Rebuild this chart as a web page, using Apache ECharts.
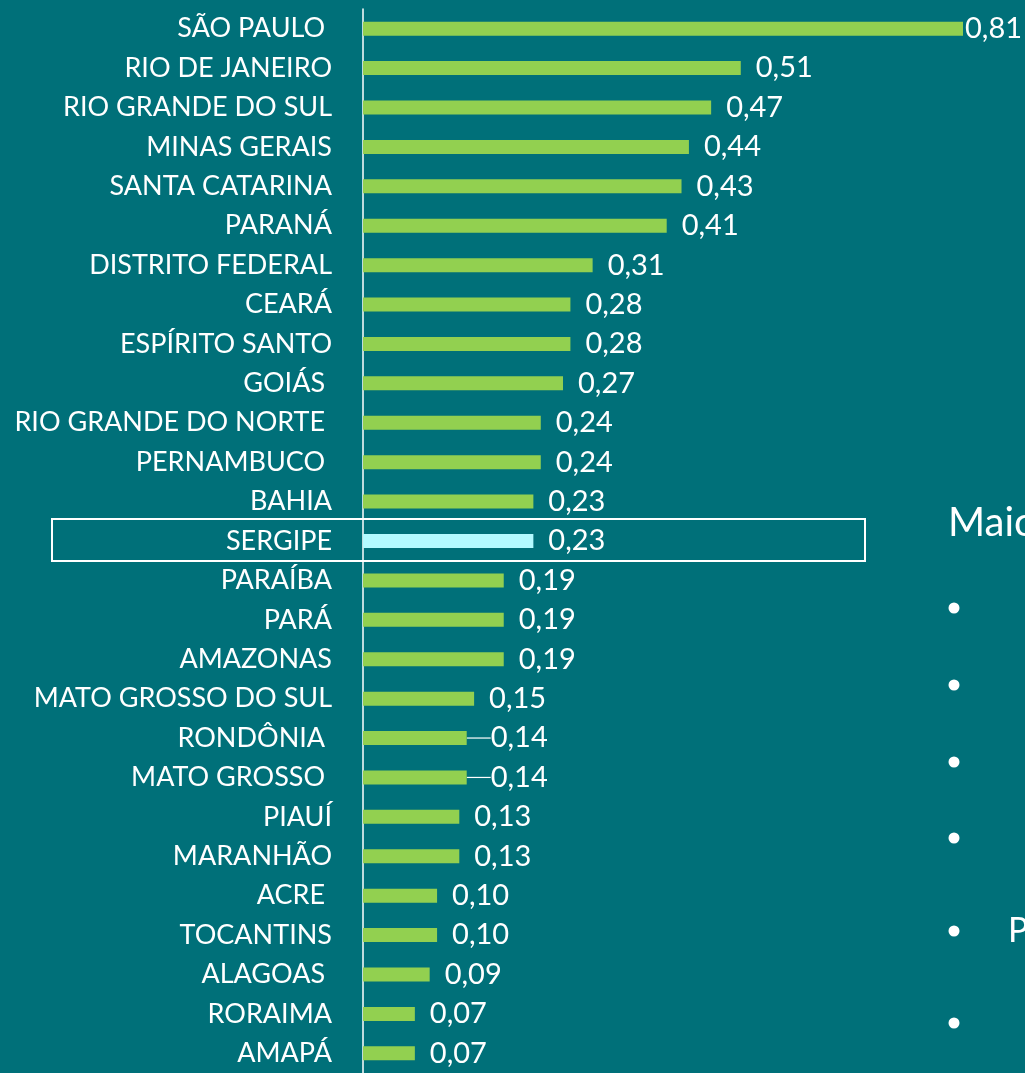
<!DOCTYPE html>
<html>
<head>
<meta charset="utf-8">
<script src="https://cdn.jsdelivr.net/npm/echarts@6/dist/echarts.min.js"></script>
<style>
  html, body { margin: 0; padding: 0; background: #007079; }
  #chart { width: 1025px; height: 1073px; }
</style>
</head>
<body>
<div id="chart"></div>
<script>
// States, top to bottom (trailing spaces keep the original label spacing)
const states = [
  'SÃO PAULO ', 'RIO DE JANEIRO', 'RIO GRANDE DO SUL', 'MINAS GERAIS',
  'SANTA CATARINA', 'PARANÁ', 'DISTRITO FEDERAL', 'CEARÁ', 'ESPÍRITO SANTO',
  'GOIÁS ', 'RIO GRANDE DO NORTE ', 'PERNAMBUCO ', 'BAHIA', 'SERGIPE',
  'PARAÍBA', 'PARÁ', 'AMAZONAS', 'MATO GROSSO DO SUL', 'RONDÔNIA ',
  'MATO GROSSO ', 'PIAUÍ', 'MARANHÃO', 'ACRE ', 'TOCANTINS', 'ALAGOAS ',
  'RORAIMA', 'AMAPÁ'
];
const values = [
  0.81, 0.51, 0.47, 0.44, 0.43, 0.41, 0.31, 0.28, 0.28, 0.27, 0.24, 0.24,
  0.23, 0.23, 0.19, 0.19, 0.19, 0.15, 0.14, 0.14, 0.13, 0.13, 0.10, 0.10,
  0.09, 0.07, 0.07
];
// labels that were nudged right and keep a short leader line
const guided = ['RONDÔNIA', 'MATO GROSSO'];
const highlighted = 'SERGIPE';
const sideTitle = 'Maiores';
const sideItems = ['', '', '', '', 'P', ''];

const BG = '#007079';
const GREEN = '#92D050';
const CYAN = '#B3FAFF';
const FONT = 'Lato';

const chart = echarts.init(document.getElementById('chart'), null, { renderer: 'canvas' });

const fmt = v => v.toFixed(2).replace('.', ',');

const barData = values.map((v, i) => {
  const name = states[i].trim();
  const item = { value: v };
  if (name === highlighted) item.itemStyle = { color: CYAN };
  if (i === 0) item.label = { distance: 2, offset: [0, 0] };
  if (guided.includes(name)) {
    item.label = { padding: [0, 0, 0, 8] };
    item.labelLine = { show: true };
  }
  return item;
});

const option = {
  backgroundColor: BG,
  animation: false,
  grid: { left: 363, right: 62, top: 9, height: 1069, containLabel: false },
  xAxis: {
    type: 'value', min: 0, max: 0.81, show: false
  },
  yAxis: {
    type: 'category',
    data: states,
    inverse: true,
    axisLine: { show: true, lineStyle: { color: '#ffffff', width: 1.5 } },
    axisTick: { show: false },
    axisLabel: {
      color: '#ffffff', fontFamily: FONT, fontSize: 27, margin: 31
    }
  },
  series: [{
    type: 'bar',
    data: barData,
    barWidth: 14,
    itemStyle: { color: GREEN },
    label: {
      show: true,
      position: 'right',
      distance: 15,
      offset: [0, 2],
      color: '#ffffff',
      fontFamily: FONT,
      fontSize: 29,
      formatter: p => fmt(p.value)
    },
    labelLine: { show: false, lineStyle: { color: '#ffffff', width: 1.2 } },
    labelLayout: p => guided.includes(states[p.dataIndex].trim()) ? { dx: 1 } : {}
  }]
};

chart.setOption(option);

// Frame around the highlighted row and the side text column
const hi = states.findIndex(s => s.trim() === highlighted);
const rowY = chart.convertToPixel({ yAxisIndex: 0 }, states[hi]);
const bulletY = [608, 685, 762, 838, 931, 1023];
const graphics = [{
  type: 'rect',
  shape: { x: 52, y: rowY - 22, width: 813, height: 42 },
  style: { fill: null, stroke: '#ffffff', lineWidth: 2 }
}, {
  type: 'text',
  x: 948, y: 543,
  style: { text: sideTitle, fill: '#ffffff', font: '40px ' + FONT, textVerticalAlign: 'bottom' }
}];
bulletY.forEach((y, i) => {
  graphics.push({
    type: 'circle', shape: { cx: 954, cy: y, r: 5.5 }, style: { fill: '#ffffff' }
  });
  if (sideItems[i]) {
    graphics.push({
      type: 'text', x: 1008, y: y,
      style: { text: sideItems[i], fill: '#ffffff', font: '34px ' + FONT, textVerticalAlign: 'middle' }
    });
  }
});
chart.setOption({ graphic: graphics });
</script>
</body>
</html>
